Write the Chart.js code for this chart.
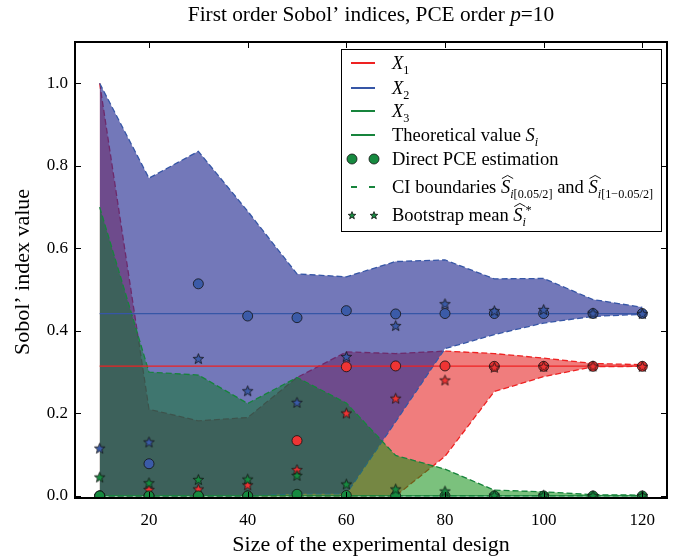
<!DOCTYPE html>
<html>
<head>
<meta charset="utf-8">
<script src="https://cdn.jsdelivr.net/npm/chart.js@4.4.1/dist/chart.umd.min.js"></script>
<style>
  html, body { margin: 0; padding: 0; background: #fff; }
  #wrap { width: 686px; height: 559px; }
</style>
</head>
<body>
<div id="wrap"><canvas id="sobol-chart" width="686" height="559"></canvas></div>
<script>
// --- Data ---
const sizes = [10, 20, 30, 40, 50, 60, 70, 80, 90, 100, 110, 120];
const xTicks = [20, 40, 60, 80, 100, 120];
const yTicks = [0.0, 0.2, 0.4, 0.6, 0.8, 1.0];

// theoretical first order indices S_1, S_2, S_3
const theoretical = [0.3145, 0.442, 0.0];

// CI boundaries
const ciLowX1 = [0, 0, 0, 0, 0, 0, 0, 0.096, 0.253, 0.289, 0.313, 0.314];
const ciUpX1  = [1.0, 0.21, 0.182, 0.19, 0.287, 0.349, 0.345, 0.351, 0.345, 0.334, 0.321, 0.318];
const ciLowX2 = [0, 0, 0, 0, 0.005, 0.005, 0.18, 0.357, 0.391, 0.419, 0.435, 0.44];
const ciUpX2  = [1.0, 0.77, 0.835, 0.69, 0.538, 0.531, 0.568, 0.572, 0.526, 0.527, 0.476, 0.457];
const ciLowX3 = [0, 0, 0, 0, 0, 0, 0, 0, 0, 0, 0, 0];
const ciUpX3  = [0.70, 0.30, 0.293, 0.224, 0.287, 0.225, 0.098, 0.065, 0.014, 0.010, 0.003, 0.002];

// direct PCE estimation (circles)
const pceX1 = [0, 0, 0, 0, 0.134, 0.313, 0.315, 0.315, 0.314, 0.314, 0.314, 0.314];
const pceX2 = [0, 0.078, 0.514, 0.436, 0.432, 0.449, 0.441, 0.442, 0.442, 0.442, 0.442, 0.442];
const pceX3 = [0, 0, 0, 0, 0.004, 0.001, 0, 0, 0, 0, 0, 0];

// bootstrap mean (stars)
const bootX1 = [0, 0.016, 0.017, 0.027, 0.064, 0.201, 0.237, 0.281, 0.312, 0.314, 0.315, 0.314];
const bootX2 = [0.116, 0.131, 0.333, 0.255, 0.227, 0.338, 0.413, 0.466, 0.449, 0.452, 0.443, 0.442];
const bootX3 = [0.046, 0.032, 0.04, 0.041, 0.05, 0.029, 0.017, 0.012, 0.002, 0.002, 0.001, 0.001];

// --- Styles ---
const SERIF = '"Liberation Serif", "Times New Roman", serif';
const lineCol = ['#ee2222', '#3656a6', '#17843c'];
const markCol = ['#ef3434', '#3b5ba8', '#178a40'];
// green band is painted in two half passes (under and over the blue band)
const fillCol = ['rgba(230,38,38,0.6)', 'rgba(40,47,147,0.65)', 'rgba(15,144,19,0.33)'];

const pts = ys => sizes.map((x, i) => ({ x: x, y: ys[i] }));

function makeStar(color, r) {
    const c = document.createElement('canvas');
    const s = Math.ceil(r * 2 + 4);
    c.width = s; c.height = s;
    const g = c.getContext('2d');
    g.beginPath();
    for (let i = 0; i < 10; i++) {
        const a = -Math.PI / 2 + i * Math.PI / 5;
        const rr = i % 2 ? r * 0.42 : r;
        const px = s / 2 + rr * Math.cos(a), py = s / 2 + 0.6 + rr * Math.sin(a);
        if (i === 0) g.moveTo(px, py); else g.lineTo(px, py);
    }
    g.closePath();
    g.fillStyle = color; g.fill();
    g.lineWidth = 0.8; g.strokeStyle = '#111'; g.stroke();
    return c;
}

function bandLower(data, k, ord) {
    return { data: pts(data), borderColor: lineCol[k], borderWidth: 1.3, borderDash: [6, 3],
             pointRadius: 0, fill: false, order: ord, tension: 0 };
}
function bandUpper(data, k, ord, lowerIdx, noLine) {
    return { data: pts(data), borderColor: lineCol[k], borderWidth: noLine ? 0 : 1.3, borderDash: [6, 3],
             pointRadius: 0, fill: lowerIdx, backgroundColor: fillCol[k], order: ord, tension: 0 };
}
function theoLine(v, k, ord) {
    return { data: [{ x: sizes[0], y: v }, { x: sizes[sizes.length - 1], y: v }],
             borderColor: lineCol[k], borderWidth: 1.3, pointRadius: 0, fill: false, order: ord };
}
function circles(data, k, ord) {
    return { data: pts(data), showLine: false, pointStyle: 'circle', pointRadius: 5,
             pointBackgroundColor: markCol[k], pointBorderColor: '#111', pointBorderWidth: 0.8, order: ord };
}
function stars(data, k, ord) {
    return { data: pts(data), showLine: false, pointStyle: makeStar(markCol[k], 5.5), pointRadius: 6, order: ord };
}

// --- Rich text helper (sub/superscripts, wide hats) ---
function drawRich(ctx, segs, x, y, size) {
    let cx = x;
    segs.forEach(s => {
        const fs = size * (s.sc || 1);
        ctx.font = (s.it ? 'italic ' : '') + fs + 'px ' + SERIF;
        const w = ctx.measureText(s.t).width;
        ctx.fillText(s.t, cx + (s.dx || 0), y + (s.dy || 0) * size);
        if (s.hat) {
            ctx.save();
            ctx.lineWidth = 0.9;
            ctx.strokeStyle = '#000';
            ctx.beginPath();
            ctx.moveTo(cx + 1, y - size * 0.78);
            ctx.lineTo(cx + w / 2 + 2, y - size * 0.95);
            ctx.lineTo(cx + w + 3, y - size * 0.78);
            ctx.stroke();
            ctx.restore();
        }
        if (!s.stay) cx += w;
    });
    return cx - x;
}

const SUB = { sc: 0.66, dy: 0.25 };
const SUP = { sc: 0.66, dy: -0.4 };

const legendItems = [
    { kind: 'line', color: lineCol[0], segs: [{ t: 'X', it: true }, Object.assign({ t: '1' }, SUB)] },
    { kind: 'line', color: lineCol[1], segs: [{ t: 'X', it: true }, Object.assign({ t: '2' }, SUB)] },
    { kind: 'line', color: lineCol[2], segs: [{ t: 'X', it: true }, Object.assign({ t: '3' }, SUB)] },
    { kind: 'line', color: lineCol[2], segs: [{ t: 'Theoretical value ' }, { t: 'S', it: true }, Object.assign({ t: 'i', it: true }, SUB)] },
    { kind: 'circle', color: markCol[2], segs: [{ t: 'Direct PCE estimation' }] },
    { kind: 'dash', color: lineCol[2], segs: [{ t: 'CI boundaries ' }, { t: 'S', it: true, hat: true },
        Object.assign({ t: 'i', it: true }, SUB), Object.assign({ t: '[0.05/2]' }, SUB),
        { t: ' and ' }, { t: 'S', it: true, hat: true },
        Object.assign({ t: 'i', it: true }, SUB), Object.assign({ t: '[1\u22120.05/2]' }, SUB)] },
    { kind: 'star', color: markCol[2], segs: [{ t: 'Bootstrap mean ' }, { t: 'S', it: true, hat: true },
        Object.assign({ t: '*', stay: true, dx: 3 }, SUP), Object.assign({ t: 'i', it: true }, SUB)] }
];
const legendRowY = [63, 88, 111, 135, 159, 187, 215];

const decorPlugin = {
    id: 'decor',
    afterDatasetsDraw(chart) {
        const ctx = chart.ctx, a = chart.chartArea;
        const xs = chart.scales.x, ys = chart.scales.y;
        ctx.save();
        ctx.strokeStyle = '#000';
        ctx.lineWidth = 1;
        const tl = 6;
        xTicks.forEach(v => {
            const px = Math.round(xs.getPixelForValue(v)) + 0.5;
            ctx.beginPath();
            ctx.moveTo(px, a.bottom); ctx.lineTo(px, a.bottom - tl);
            ctx.moveTo(px, a.top); ctx.lineTo(px, a.top + tl);
            ctx.stroke();
        });
        yTicks.forEach(v => {
            const py = Math.round(ys.getPixelForValue(v)) + 0.5;
            ctx.beginPath();
            ctx.moveTo(a.left, py); ctx.lineTo(a.left + tl, py);
            ctx.moveTo(a.right, py); ctx.lineTo(a.right - tl, py);
            ctx.stroke();
        });
        ctx.lineWidth = 2;
        ctx.strokeRect(a.left, a.top, a.right - a.left, a.bottom - a.top);
        ctx.restore();
    },
    afterDraw(chart) {
        const ctx = chart.ctx, a = chart.chartArea;
        const cxm = (a.left + a.right) / 2;
        ctx.save();
        ctx.fillStyle = '#000';
        ctx.textBaseline = 'alphabetic';

        // title
        const tSegs = [{ t: 'First order Sobol\u2019 indices, PCE order ' }, { t: 'p', it: true }, { t: '=10' }];
        ctx.textAlign = 'left';
        const tw = drawRich(document.createElement('canvas').getContext('2d'), tSegs, 0, 0, 21.3);
        drawRich(ctx, tSegs, cxm - tw / 2, 21, 21.3);

        // axis titles
        ctx.font = '22px ' + SERIF;
        ctx.textAlign = 'center';
        ctx.fillText('Size of the experimental design', cxm, 551);
        ctx.save();
        ctx.translate(29, (a.top + a.bottom) / 2 + 2);
        ctx.rotate(-Math.PI / 2);
        ctx.fillText('Sobol\u2019 index value', 0, 0);
        ctx.restore();

        // legend
        const L = { x: 341, y: 49, w: 320, h: 182 };
        ctx.fillStyle = '#fff';
        ctx.fillRect(L.x, L.y, L.w, L.h);
        ctx.strokeStyle = '#000';
        ctx.lineWidth = 1;
        ctx.strokeRect(L.x + 0.5, L.y + 0.5, L.w, L.h);
        ctx.textAlign = 'left';
        legendItems.forEach((it, i) => {
            const yc = legendRowY[i];
            const x0 = 351, x1 = 375;
            if (it.kind === 'line' || it.kind === 'dash') {
                ctx.save();
                ctx.strokeStyle = it.color;
                ctx.lineWidth = 2;
                if (it.kind === 'dash') ctx.setLineDash([6, 12]);
                ctx.beginPath(); ctx.moveTo(x0, yc); ctx.lineTo(x1, yc); ctx.stroke();
                ctx.restore();
            } else if (it.kind === 'circle') {
                [x0 + 1, x1 - 1].forEach(px => {
                    ctx.beginPath(); ctx.arc(px, yc, 5, 0, Math.PI * 2);
                    ctx.fillStyle = it.color; ctx.fill();
                    ctx.lineWidth = 0.8; ctx.strokeStyle = '#111'; ctx.stroke();
                });
            } else if (it.kind === 'star') {
                const st = makeStar(it.color, 4);
                [x0 + 1, x1 - 1].forEach(px => ctx.drawImage(st, px - st.width / 2, yc - st.height / 2));
            }
            ctx.fillStyle = '#000';
            drawRich(ctx, it.segs, 392, yc + 6, 18.5);
        });
        ctx.restore();
    }
};

const datasets = [
    bandLower(ciLowX1, 0, 100), bandUpper(ciUpX1, 0, 100, 0),
    bandLower(ciLowX2, 1, 90),  bandUpper(ciUpX2, 1, 90, 2),
    bandLower(ciLowX3, 2, 80),  bandUpper(ciUpX3, 2, 80, 4),
    bandUpper(ciUpX3, 2, 95, 4, true),
    theoLine(theoretical[0], 0, 50), theoLine(theoretical[1], 1, 49), theoLine(theoretical[2], 2, 48),
    circles(pceX1, 0, 30), stars(bootX1, 0, 29),
    circles(pceX2, 1, 28), stars(bootX2, 1, 27),
    circles(pceX3, 2, 26), stars(bootX3, 2, 25)
];

new Chart(document.getElementById('sobol-chart').getContext('2d'), {
    type: 'line',
    data: { datasets: datasets },
    options: {
        responsive: false,
        animation: false,
        devicePixelRatio: 1,
        layout: { padding: { left: 0, right: 19, top: 42, bottom: 0 } },
        plugins: { legend: { display: false }, tooltip: { enabled: false }, title: { display: false } },
        scales: {
            x: {
                type: 'linear', min: 5, max: 125,
                grid: { display: false, drawTicks: false }, border: { display: false },
                afterBuildTicks: s => { s.ticks = xTicks.map(v => ({ value: v })); },
                afterFit: s => { s.height = 61; },
                ticks: { color: '#000', padding: 12, maxRotation: 0, font: { family: SERIF, size: 17 } }
            },
            y: {
                type: 'linear', min: -0.005, max: 1.1,
                grid: { display: false, drawTicks: false }, border: { display: false },
                afterBuildTicks: s => { s.ticks = yTicks.map(v => ({ value: v })); },
                afterFit: s => { s.width = 75; },
                ticks: { color: '#000', padding: 7, font: { family: SERIF, size: 17 },
                         callback: v => v.toFixed(1) }
            }
        }
    },
    plugins: [decorPlugin]
});
</script>
</body>
</html>
